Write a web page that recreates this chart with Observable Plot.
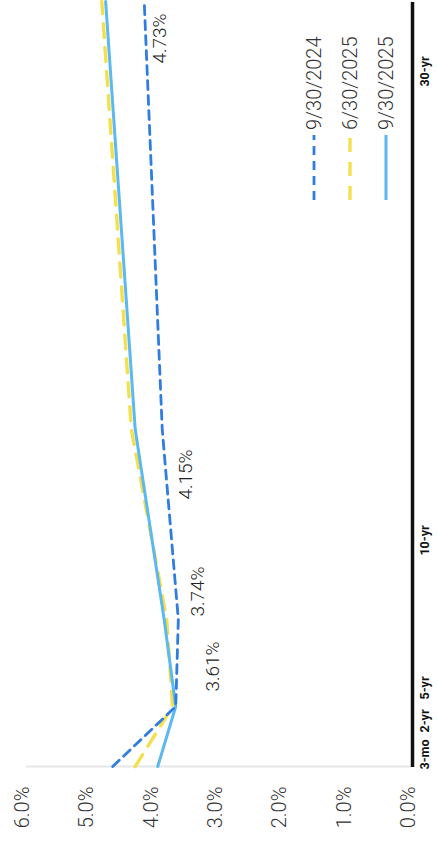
<!DOCTYPE html>
<html>
<head>
<meta charset="utf-8">
<script src="https://cdn.jsdelivr.net/npm/d3@7"></script>
<script src="https://cdn.jsdelivr.net/npm/@observablehq/plot@0.6"></script>
<style>
  html, body { margin: 0; padding: 0; background: #fff; overflow: hidden; }
  #wrap {
    position: absolute; left: 0; top: 0; width: 844px; height: 438px;
    transform-origin: 0 0; transform: translate(0px, 844px) rotate(-90deg);
    font-family: Roboto, "Open Sans", sans-serif;
  }
  #legend { position: absolute; left: 644px; top: 296px; }
  .row { display: flex; align-items: center; height: 36px; }
  .row span { font-size: 20px; font-weight: 300; color: #333; margin-left: 5px; line-height: 1; }
</style>
</head>
<body>
<div id="wrap"><div id="chart"></div><div id="legend"></div></div>
<script>
// ---- data ----
const maturityLabels = ["3-mo", "2-yr", "5-yr", "10-yr", "30-yr"];
const maturityYears = [0.25, 2, 5, 10, 30];
const seriesNames = ["9/30/2024", "6/30/2025", "9/30/2025"];
const yields_2024_09 = [4.66, 3.68, 3.64, 3.89, 4.17];
const yields_2025_06 = [4.31, 3.73, 3.82, 4.37, 4.83];
const yields_2025_09 = [3.96, 3.68, 3.86, 4.31, 4.77];
const valueTicks = [0, 1, 2, 3, 4, 5, 6];
const annotationMaturities = [2, 5, 10, 30];
const annotationValues = [3.61, 3.74, 4.15, 4.73];

// ---- styles / layout ----
const seriesStyle = {
  "9/30/2024": {stroke: "#2f7de0", strokeWidth: 2.8, dash: "9,6"},
  "6/30/2025": {stroke: "#f4e04e", strokeWidth: 3.4, dash: "14,10"},
  "9/30/2025": {stroke: "#5cb8f0", strokeWidth: 3, dash: null}
};
const tickNudge = [12, -14.5, -68.5, -111, -70];
const annotationNudge = [[40, 33], [28, 26], [-45, 40], [-37, 52]];

const table = (vals, name) => maturityYears.map((m, i) => ({m, v: vals[i], s: name}));
const d24 = table(yields_2024_09, seriesNames[0]);
const d25a = table(yields_2025_06, seriesNames[1]);
const d25b = table(yields_2025_09, seriesNames[2]);
const lineOf = (data, name) => Plot.line(data, {
  x: "m", y: "v", stroke: seriesStyle[name].stroke, strokeWidth: seriesStyle[name].strokeWidth,
  strokeDasharray: seriesStyle[name].dash || undefined
});

const ticksData = maturityLabels.map((t, i) => ({m: maturityYears[i], t}));
const annData = annotationValues.map((v, i) => ({m: annotationMaturities[i], v, t: v.toFixed(2) + "%"}));

const chart = Plot.plot({
  width: 844, height: 438,
  marginLeft: 77, marginRight: 2, marginTop: 26, marginBottom: 26,
  style: {fontFamily: "Roboto, 'Open Sans', sans-serif", background: "#fff"},
  x: {type: "linear", domain: maturityYears, range: [77, 137, 224, 414, 842], axis: null},
  y: {domain: [0, 6], range: [412, 26]},
  marks: [
    Plot.ruleX([0.25], {stroke: "#e6e6e6", strokeWidth: 2}),
    lineOf(d25a, seriesNames[1]),
    lineOf(d25b, seriesNames[2]),
    lineOf(d24, seriesNames[0]),
    Plot.ruleY([0], {stroke: "#111", strokeWidth: 3.5}),
    Plot.axisY(valueTicks, {
      tickSize: 0, tickPadding: 20, label: null, fontSize: 20, fontWeight: 300,
      fill: "#333", dy: -4, tickFormat: d => d.toFixed(1) + "%"
    }),
    ...ticksData.map((d, i) => Plot.text([d], {
      x: "m", frameAnchor: "bottom", text: "t", dy: 16, dx: tickNudge[i],
      fontSize: 12.5, fontWeight: "bold", fill: "#111"
    })),
    ...annData.map((d, i) => Plot.text([d], {
      x: "m", y: "v", text: "t", dx: annotationNudge[i][0], dy: annotationNudge[i][1],
      fontSize: 19, fontWeight: 300, fill: "#222"
    }))
  ]
});
document.getElementById("chart").appendChild(chart);

// legend
const legend = document.getElementById("legend");
seriesNames.forEach(name => {
  const st = seriesStyle[name];
  const row = document.createElement("div");
  row.className = "row";
  const svg = d3.create("svg").attr("width", 65).attr("height", 8);
  svg.append("line").attr("x1", 0).attr("x2", 65).attr("y1", 4).attr("y2", 4)
    .attr("stroke", st.stroke).attr("stroke-width", st.strokeWidth)
    .attr("stroke-dasharray", st.dash || null);
  row.appendChild(svg.node());
  const sp = document.createElement("span");
  sp.textContent = name;
  row.appendChild(sp);
  legend.appendChild(row);
});
</script>
</body>
</html>
